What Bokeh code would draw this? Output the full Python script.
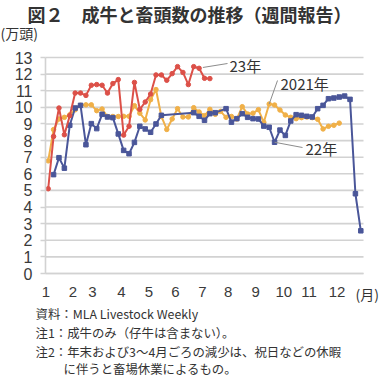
from bokeh.plotting import figure
from bokeh.models import Range1d, FixedTicker, Label
from bokeh.embed import file_html
from bokeh.resources import INLINE

# ---- data (weekly slaughter of adult cattle, 10,000 head) ----
series_2021 = [6.78, 8.66, 9.3, 9.4, 9.55, 9.85, 10.12, 10.15, 10.15, 9.8,
               9.9, 9.45, 9.45, 9.45, 9.46, 9.46, 10.1, 9.65, 9.24, 10.46,
               11.07, 9.45, 8.67, 9.3, 9.92, 9.42, 9.42, 9.98, 9.72, 9.5,
               9.88, 9.58, 9.76, 9.4, 9.45, 9.3, 10.04, 9.6, 9.65, 9.86,
               9.1, 10.2, 10.14, 9.84, 9.54, 9.4, 9.32, 9.38, 9.42, 9.38,
               9.28, 8.7, 8.86, 8.92, 9.05]
series_2022 = [None, 5.95, 6.97, 6.34, 8.92, 9.96, 10.12, 7.75, 9.02, 8.72,
               9.58, 9.42, 9.38, 8.4, 7.41, 7.21, 7.89, 8.86, 8.7, 8.5,
               9.0, 9.52, None, None, None, None, None, 9.68, 9.46, 9.22,
               9.62, 9.68, None, 9.92, 9.11, 9.32, 9.62, 9.4, 9.32, 9.3,
               8.87, 8.8, 7.9, 8.63, 8.31, 9.18, 9.56, 9.52, 9.46, 9.42,
               9.92, 10.12, 10.52, 10.56, 10.62, 10.68, 10.48, 4.8, 2.57]
series_2023 = [5.1, 8.25, 9.96, 8.35, 9.5, 10.86, 10.86, 10.72, 11.33, 11.37,
               11.33, 10.86, 11.43, 11.67, 8.33, 8.86, 11.5, 9.88, 10.32, 10.8,
               11.95, 11.95, 11.63, 12.03, 12.45, 12.1, 11.37, 12.45, 12.35, 11.75,
               11.73]
month_labels = ["1", "2", "3", "4", "5", "6", "7", "8", "9", "10", "11", "12"]
month_tick_pos = [-0.4, 4.6, 8.2, 13.6, 18.7, 23.6, 28.6, 33.4, 38.5, 43.7, 48.4, 53.6]
y_ticks = list(range(0, 14))

title_text = "図２　成牛と畜頭数の推移（週間報告）"
unit_text = "(万頭)"
month_unit = "(月)"
notes = ["資料：MLA Livestock Weekly",
         "注1：成牛のみ（仔牛は含まない）。",
         "注2：年末および3～4月ごろの減少は、祝日などの休暇",
         "に伴うと畜場休業によるもの。"]

N_CAT = 59

# ---- colours ----
C21 = "#f0b048"
C22 = "#4a5699"
C23 = "#dc5048"
GRID = "#d2d2d2"
TXT = "#333333"
CJK = "Noto Sans CJK JP"

# ---- geometry: the chart area of the reference, in canvas pixels ----
W, H = 380, 379
FL, FR, FT, FB = 45, 363, 57, 273
PXU = (FR - FL) / N_CAT
PYU = (FB - FT) / 13.0


def px2x(px):
    return (px - FL) / PXU - 0.5


def py2y(py):
    return (FB - py) / PYU


p = figure(width=W, height=H, output_backend="svg", toolbar_location=None,
           x_range=Range1d(px2x(0), px2x(W)), y_range=Range1d(py2y(H), py2y(0)),
           min_border=0, min_border_left=0, min_border_right=0,
           min_border_top=0, min_border_bottom=0)
p.outline_line_color = None
p.background_fill_color = "white"
p.border_fill_color = "white"
p.xgrid.visible = False
p.ygrid.visible = False

# horizontal gridlines over the category span
p.segment(x0=[-0.5] * len(y_ticks), y0=y_ticks, x1=[N_CAT - 0.5] * len(y_ticks), y1=y_ticks,
          line_color=GRID, line_width=1.6, level="underlay")

# axes drawn at fixed data locations inside the canvas
p.yaxis.fixed_location = -0.5
p.yaxis.bounds = (0, 13)
p.yaxis.ticker = FixedTicker(ticks=y_ticks)
p.yaxis.axis_line_color = GRID
p.yaxis.axis_line_width = 1.6
p.yaxis.major_tick_line_color = GRID
p.yaxis.major_tick_line_width = 1.6
p.yaxis.major_tick_out = 5
p.yaxis.major_tick_in = 0
p.yaxis.minor_tick_line_color = None
p.yaxis.major_label_standoff = 8
p.yaxis.major_label_text_font = "Liberation Sans"
p.yaxis.major_label_text_font_size = "16px"
p.yaxis.major_label_text_color = "#3a3a3a"

p.xaxis.fixed_location = 0
p.xaxis.bounds = (-0.5, N_CAT - 0.5)
p.xaxis.ticker = FixedTicker(ticks=month_tick_pos)
p.xaxis.major_label_overrides = {t: l for t, l in zip(month_tick_pos, month_labels)}
p.xaxis.axis_line_color = GRID
p.xaxis.axis_line_width = 1.6
p.xaxis.major_tick_line_color = None
p.xaxis.minor_tick_line_color = None
p.xaxis.major_tick_out = 0
p.xaxis.major_tick_in = 0
p.xaxis.major_label_standoff = 13
p.xaxis.major_label_text_font = "Liberation Sans"
p.xaxis.major_label_text_font_size = "15px"
p.xaxis.major_label_text_color = "#3a3a3a"


def draw(vals, color, marker):
    xs = [i for i, v in enumerate(vals) if v is not None]
    ys = [v for v in vals if v is not None]
    p.line(xs, ys, line_color=color, line_width=2)
    p.scatter(xs, ys, marker=marker, size=4.5, fill_color=color, line_color=color)


draw(series_2021, C21, "circle")
draw(series_2022, C22, "square")
draw(series_2023, C23, "circle")

# connector lines for series labels
lab23 = (229, 65)
lab21 = (280, 83)
lab22 = (305, 148)
i23, i21, i22 = 28, 41, 42
p.segment(x0=[i23 + 0.7, i21, i22], y0=[series_2023[i23] + 0.05, series_2021[i21], series_2022[i22]],
          x1=[px2x(227), px2x(277), px2x(302)], y1=[py2y(63), py2y(80), py2y(147)],
          line_color="#8c8c8c", line_width=1)

for txt, (lx, ly) in (("23年", lab23), ("2021年", lab21), ("22年", lab22)):
    p.add_layout(Label(x=px2x(lx), y=py2y(ly), text=txt, text_align="left",
                       text_baseline="middle", text_font=CJK, text_font_size="15px",
                       text_color=TXT))

# title and texts around the chart
p.add_layout(Label(x=px2x(189), y=py2y(13), text=title_text, text_align="center",
                   text_baseline="middle", text_font=CJK, text_font_size="18px",
                   text_font_style="bold", text_color=TXT))
p.add_layout(Label(x=px2x(0), y=py2y(32), text=unit_text, text_align="left",
                   text_baseline="middle", text_font=CJK, text_font_size="14px",
                   text_color=TXT))
p.add_layout(Label(x=px2x(355), y=py2y(293), text=month_unit, text_align="left",
                   text_baseline="middle", text_font=CJK, text_font_size="14px",
                   text_color=TXT))
note_pos = [(35, 313), (35, 332), (35, 351), (63, 368)]
for txt, (nx, ny) in zip(notes, note_pos):
    p.add_layout(Label(x=px2x(nx), y=py2y(ny), text=txt, text_align="left",
                       text_baseline="middle", text_font=CJK, text_font_size="12.4px",
                       text_color=TXT))

open("out.html", "w").write(file_html(p, INLINE))
